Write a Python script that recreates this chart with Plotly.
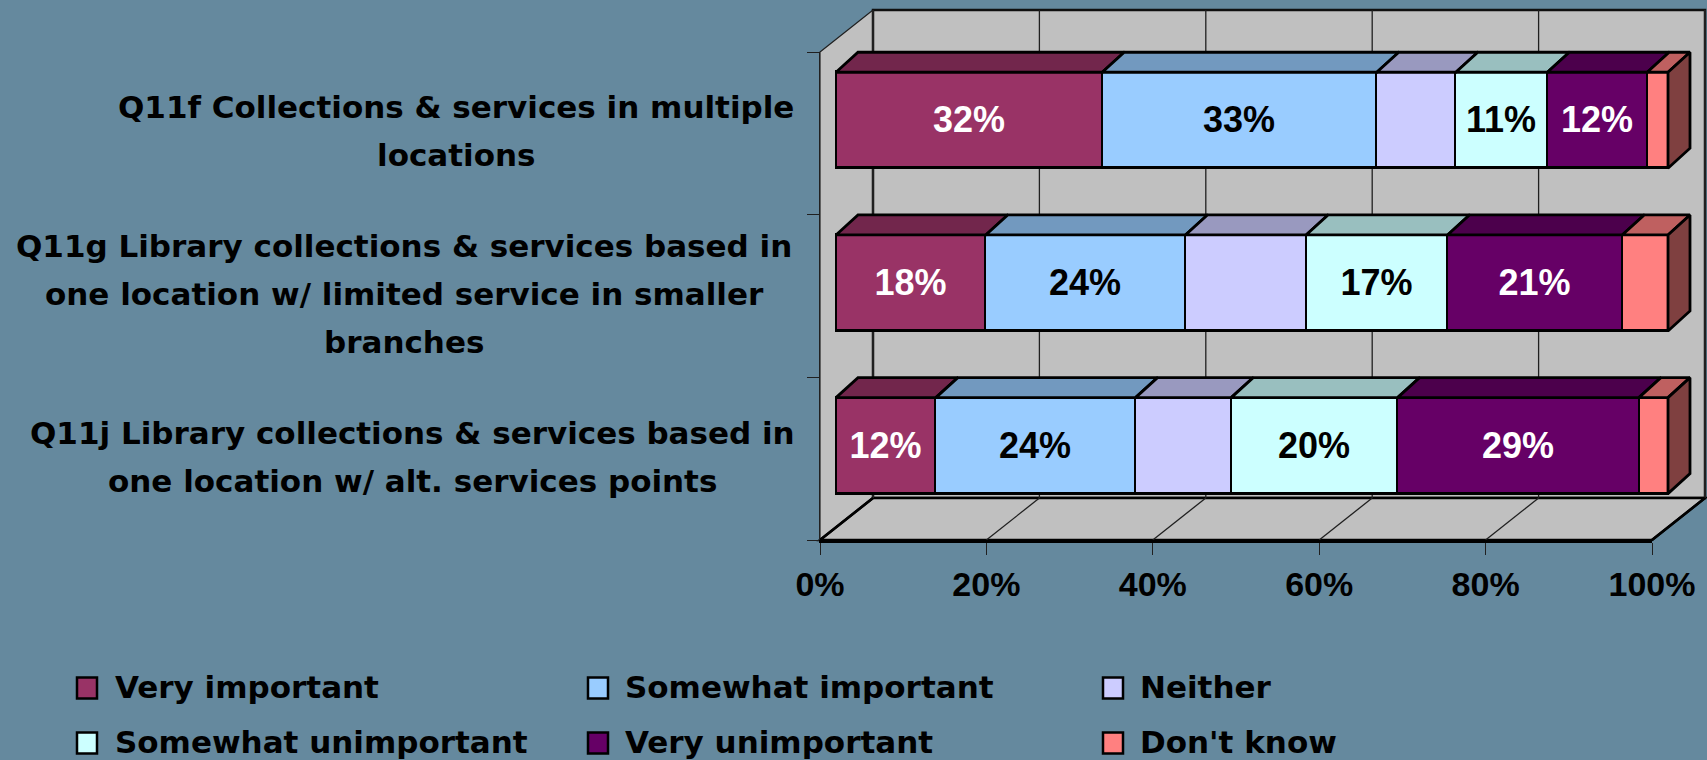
import plotly.graph_objects as go

# ---- data -------------------------------------------------------------
categories = [
    "Q11f Collections & services in multiple<br>locations",
    "Q11g Library collections & services based in<br>one location w/ limited service in smaller<br>branches",
    "Q11j Library collections & services based in<br>one location w/ alt. services points",
]
series_names = [
    "Very important", "Somewhat important", "Neither",
    "Somewhat unimportant", "Very unimportant", "Don't know",
]
very_important = [32, 18, 12]
somewhat_important = [33, 24, 24]
neither = [9.5, 14.5, 11.5]
somewhat_unimportant = [11, 17, 20]
very_unimportant = [12, 21, 29]
dont_know = [2.5, 5.5, 3.5]
series_values = [very_important, somewhat_important, neither,
                 somewhat_unimportant, very_unimportant, dont_know]
x_ticks = [0, 20, 40, 60, 80, 100]
x_tick_labels = ["0%", "20%", "40%", "60%", "80%", "100%"]

# ---- styling ----------------------------------------------------------
front_colors = ["#993366", "#99CCFF", "#CCCCFF", "#CCFFFF", "#660066", "#FF8080"]
label_colors = ["white", "black", None, "black", "white", None]
BG = "#65899E"
WALL = "#C0C0C0"
ARIAL = "Liberation Sans, Arial, sans-serif"
WIDE = "DejaVu Sans, Verdana, sans-serif"

W, H = 1707, 760


def fx(px):
    return px / W


def fy(py):
    return 1 - py / H


def shade(hex_color, k):
    h = hex_color.lstrip("#")
    r, g, b = (int(h[i:i + 2], 16) for i in (0, 2, 4))
    return "#%02X%02X%02X" % (int(r * k), int(g * k), int(b * k))


# bar plane geometry (pixels)
BAR_X0 = 836.0      # 0 % on the bar front plane
UNIT = 8.32         # pixels per percent
ROW_UNIT = 162.7    # pixels per category step
BAR_W = 0.59
DEPTH_X = 22 / UNIT       # bar depth, in axis units
DEPTH_Y = 20 / ROW_UNIT

# frame geometry (pixels): front plane and back wall
FX0, FX1, FY_TOP, FY_BOT = 820, 1652, 52, 540
BX0, BX1, BY_TOP, BY_BOT = 873, 1705, 10, 498

fig = go.Figure()

row_pos = [len(categories) - 1 - i for i in range(len(categories))]

# front faces of the stacked bars
for name, vals, col, lc in zip(series_names, series_values, front_colors, label_colors):
    fig.add_trace(go.Bar(
        x=vals, y=row_pos, orientation="h", width=BAR_W, name=name,
        marker=dict(color=col, line=dict(color="black", width=2.8)),
        text=[f"{v:.0f}%" for v in vals] if lc else None,
        textposition="inside" if lc else "none",
        insidetextanchor="middle", textangle=0, constraintext="none",
        textfont=dict(family=ARIAL, size=36, color=lc or "black", weight="bold"),
        hoverinfo="skip", showlegend=False,
    ))

# top faces of each segment, and the right-hand end face of each bar
n_rows = len(categories)
cum = [0.0] * n_rows
for s, (vals, col) in enumerate(zip(series_values, front_colors)):
    xs, ys = [], []
    for r in range(n_rows):
        x0, x1 = cum[r], cum[r] + vals[r]
        yt = row_pos[r] + BAR_W / 2
        xs += [x0, x1, x1 + DEPTH_X, x0 + DEPTH_X, x0, None]
        ys += [yt, yt, yt + DEPTH_Y, yt + DEPTH_Y, yt, None]
        cum[r] = x1
    fig.add_trace(go.Scatter(
        x=xs, y=ys, mode="lines", fill="toself", fillcolor=shade(col, 0.75),
        line=dict(color="black", width=2.8), hoverinfo="skip", showlegend=False,
    ))

end_col = front_colors[-1]
xs, ys = [], []
for r in range(n_rows):
    xe = cum[r]
    yb, yt = row_pos[r] - BAR_W / 2, row_pos[r] + BAR_W / 2
    xs += [xe, xe + DEPTH_X, xe + DEPTH_X, xe, xe, None]
    ys += [yt, yt + DEPTH_Y, yb + DEPTH_Y, yb, yt, None]
fig.add_trace(go.Scatter(
    x=xs, y=ys, mode="lines", fill="toself", fillcolor=shade(end_col, 0.5),
    line=dict(color="black", width=2.8), hoverinfo="skip", showlegend=False,
))

# empty trace so the frame axes get their own subplot
fig.add_trace(go.Scatter(x=[None], y=[None], xaxis="x2", yaxis="y2",
                         showlegend=False, hoverinfo="skip"))

# ---- walls and floor ---------------------------------------------------
def path(points):
    return "M " + " L ".join(f"{fx(a):.5f},{fy(b):.5f}" for a, b in points) + " Z"


shapes = []
# left side wall
shapes.append(dict(type="path", xref="paper", yref="paper", layer="below",
                   path=path([(FX0, FY_TOP), (BX0, BY_TOP), (BX0, BY_BOT), (FX0, FY_BOT)]),
                   fillcolor=WALL, line=dict(color="#202020", width=1.2)))
# back wall
shapes.append(dict(type="rect", xref="paper", yref="paper", layer="below",
                   x0=fx(BX0), x1=fx(BX1), y0=fy(BY_BOT), y1=fy(BY_TOP),
                   fillcolor=WALL, line=dict(color="#101010", width=2.5)))
# floor
shapes.append(dict(type="path", xref="paper", yref="paper", layer="below",
                   path=path([(FX0, FY_BOT), (FX1, FY_BOT), (BX1, BY_BOT), (BX0, BY_BOT)]),
                   fillcolor=WALL, line=dict(color="black", width=2.5)))
# gridlines on back wall and floor, one per x tick
step_front = (FX1 - FX0) / (x_ticks[-1] - x_ticks[0])
step_back = (BX1 - BX0) / (x_ticks[-1] - x_ticks[0])
for t in x_ticks:
    xb = BX0 + t * step_back
    xf = FX0 + t * step_front
    edge = t in (x_ticks[0], x_ticks[-1])
    shapes.append(dict(type="line", xref="paper", yref="paper", layer="below",
                       x0=fx(xb), x1=fx(xb), y0=fy(BY_BOT), y1=fy(BY_TOP),
                       line=dict(color="#202020", width=2 if edge else 1.3)))
    shapes.append(dict(type="line", xref="paper", yref="paper", layer="below",
                       x0=fx(xf), x1=fx(xb), y0=fy(FY_BOT), y1=fy(BY_BOT),
                       line=dict(color="black" if edge else "#202020", width=2.5 if edge else 1.3)))

# ---- legend ------------------------------------------------------------
annotations = []
leg_cols_box = [77, 588, 1103]
leg_cols_text = [113, 623, 1138]
leg_rows = [688, 743]
for i, (name, col) in enumerate(zip(series_names, front_colors)):
    r, c = divmod(i, 3)
    yc = leg_rows[r]
    shapes.append(dict(type="rect", xref="paper", yref="paper",
                       x0=fx(leg_cols_box[c]), x1=fx(leg_cols_box[c] + 20),
                       y0=fy(yc + 10.5), y1=fy(yc - 10.5),
                       fillcolor=col, line=dict(color="black", width=2.5)))
    annotations.append(dict(xref="paper", yref="paper", x=fx(leg_cols_text[c]), y=fy(yc - 1),
                            xanchor="left", yanchor="middle", showarrow=False, text=name,
                            font=dict(family=WIDE, size=31, color="black", weight="bold")))

# ---- category labels, one annotation per line --------------------------
label_centers_x = [456, 404, 412]
LINE_GAP = 48
for r, cat in enumerate(categories):
    lines = cat.split("<br>")
    yc = FY_TOP + (r + 0.5) * (FY_BOT - FY_TOP) / n_rows - 2
    for j, line in enumerate(lines):
        yl = yc + (j - (len(lines) - 1) / 2) * LINE_GAP
        annotations.append(dict(xref="paper", yref="paper", x=fx(label_centers_x[r]), y=fy(yl),
                                xanchor="center", yanchor="middle", showarrow=False, text=line,
                                font=dict(family=WIDE, size=31, color="black", weight="bold")))

# ---- layout -------------------------------------------------------------
x_lo, x_hi = -2, 104
fig.update_layout(
    width=W, height=H, margin=dict(l=0, r=0, t=0, b=0, autoexpand=False),
    paper_bgcolor=BG, plot_bgcolor="rgba(0,0,0,0)",
    barmode="stack", bargap=0, showlegend=False,
    shapes=shapes, annotations=annotations,
    xaxis=dict(domain=[fx(BAR_X0 + x_lo * UNIT), fx(BAR_X0 + x_hi * UNIT)],
               range=[x_lo, x_hi], visible=False, fixedrange=True, automargin=False),
    yaxis=dict(domain=[fy(BY_BOT + 29), fy(BY_BOT + 29 - 3 * ROW_UNIT)],
               range=[-0.5, 2.5], visible=False, fixedrange=True, automargin=False),
    xaxis2=dict(domain=[fx(FX0), fx(FX1)], range=[x_ticks[0], x_ticks[-1]],
                anchor="y2", tickmode="array", tickvals=x_ticks, ticktext=x_tick_labels,
                ticks="outside", ticklen=12, tickwidth=1.2, tickcolor="#202020",
                showline=True, linecolor="black", linewidth=3,
                showgrid=False, zeroline=False, ticklabelstandoff=0,
                tickfont=dict(family=ARIAL, size=34, color="black", weight="bold"),
                fixedrange=True, automargin=False),
    yaxis2=dict(domain=[fy(FY_BOT), fy(FY_TOP)], range=[0, n_rows], anchor="x2",
                tickvals=list(range(n_rows + 1)), showticklabels=False,
                ticks="outside", ticklen=12, tickwidth=1.2, tickcolor="#202020",
                showline=True, linecolor="#202020", linewidth=1.2,
                showgrid=False, zeroline=False, fixedrange=True, automargin=False),
)

fig.write_html("out.html")
